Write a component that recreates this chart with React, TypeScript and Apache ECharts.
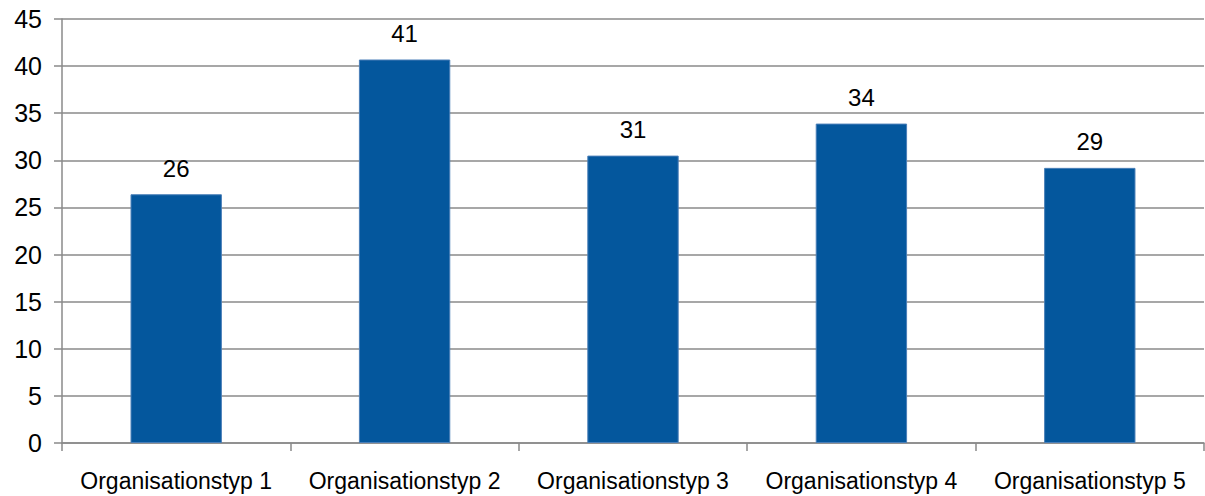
import React, { useEffect, useRef } from "react";
import * as echarts from "echarts";

const categories = [
  "Organisationstyp 1",
  "Organisationstyp 2",
  "Organisationstyp 3",
  "Organisationstyp 4",
  "Organisationstyp 5",
];
const values = [26.4, 40.7, 30.5, 33.9, 29.2];
const yMin = 0;
const yMax = 45;
const yStep = 5;

export default function App() {
  const ref = useRef<HTMLDivElement>(null);
  useEffect(() => {
    if (!ref.current) return;
    const chart = echarts.init(ref.current, undefined, { renderer: "svg" });
    const font = "'Liberation Sans', Arial, sans-serif";
    const lineColor = "#8a8a8a";
    chart.setOption({
      animation: false,
      backgroundColor: "#ffffff",
      grid: { left: 62, right: 1, top: 19, bottom: 53, containLabel: false },
      xAxis: {
        type: "category",
        data: categories,
        boundaryGap: true,
        axisLine: { show: true, lineStyle: { color: lineColor, width: 1.5 } },
        axisTick: { show: true, length: 8, lineStyle: { color: lineColor, width: 1.5 } },
        axisLabel: {
          color: "#000",
          fontSize: 23,
          fontFamily: font,
          margin: 26,
          interval: 0,
          hideOverlap: false,
        },
        splitLine: { show: false },
      },
      yAxis: {
        type: "value",
        min: yMin,
        max: yMax,
        interval: yStep,
        axisLine: { show: true, lineStyle: { color: lineColor, width: 1.5 } },
        axisTick: { show: true, length: 8, lineStyle: { color: lineColor, width: 1.5 } },
        axisLabel: { color: "#000", fontSize: 25, fontFamily: font, margin: 20 },
        splitLine: { show: true, lineStyle: { color: lineColor, width: 1.5 } },
      },
      series: [
        {
          type: "bar",
          data: values,
          barWidth: "40%",
          itemStyle: { color: "#04579d", borderColor: "#4a7fb8", borderWidth: 1 },
          label: {
            show: true,
            position: "top",
            distance: 14,
            color: "#000",
            fontSize: 24,
            fontFamily: font,
            formatter: (p: any) => String(Math.round(p.value)),
          },
        },
      ],
    });
    return () => chart.dispose();
  }, []);
  return (
    <div
      ref={ref}
      style={{ position: "absolute", left: 0, top: 0, width: 1205, height: 496 }}
    />
  );
}
